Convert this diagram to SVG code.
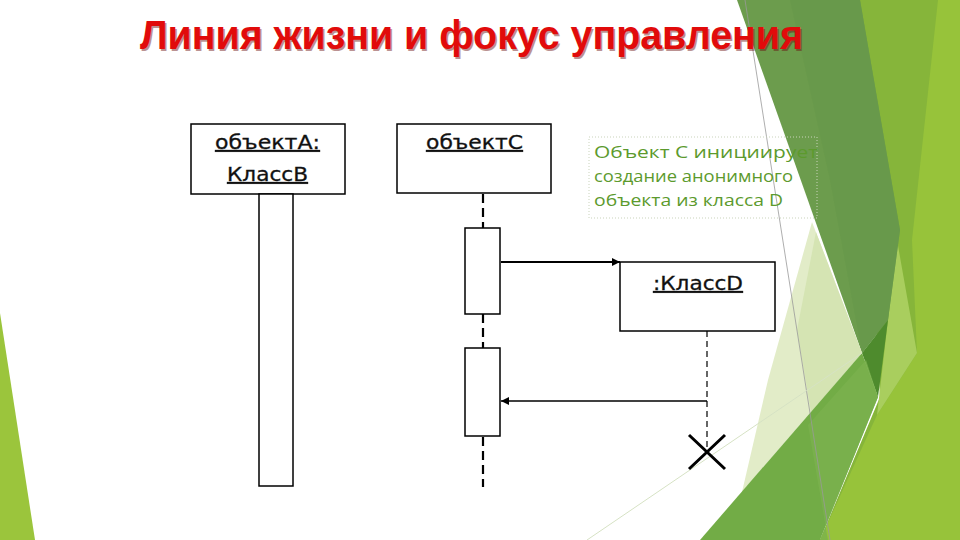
<svg xmlns="http://www.w3.org/2000/svg" width="960" height="540" viewBox="0 0 960 540">
  <style>
    .box { fill: #ffffff; stroke: #000000; stroke-width: 1.5; }
    .lbl { font-family: "DejaVu Sans", "Liberation Sans", sans-serif; font-size: 19px; fill: #111111; text-decoration: underline; stroke: #111111; stroke-width: 0.3; }
    .note { font-family: "Open Sans", "DejaVu Sans", sans-serif; font-size: 17px; fill: #5c9a2d; }
    .life { stroke: #000000; stroke-width: 2.2; stroke-dasharray: 9 5; fill: none; }
    .lifeD { stroke: #000000; stroke-width: 1.2; stroke-dasharray: 6 4; fill: none; }
    .msg { stroke: #000000; fill: none; }
  </style>
  <defs>
    <marker id="arr" viewBox="0 0 10 10" refX="10" refY="5" markerWidth="10" markerHeight="8" markerUnits="userSpaceOnUse" orient="auto">
      <path d="M0,0 L10,5 L0,10 z" fill="#000000"/>
    </marker>
  </defs>

  <!-- background -->
  <rect x="0" y="0" width="960" height="540" fill="#ffffff"/>
  <g id="background">
    <polygon points="0,313 35,540 0,540" fill="#9bc53c"/>
    <polygon points="858,0 960,0 960,540 820,540 880,397" fill="#86b53a"/>
    <polygon points="938,0 960,0 960,540 820,540 877,415 917,353 912,240" fill="#97c33a"/>
    <polygon points="897,240 917,353 877,415 888,320" fill="#a9ce5e"/>
    <polygon points="737,0 860,0 900,230 888,320 862,353" fill="#6c9c4d"/>
    <polygon points="790,0 860,0 900,230 888,320 862,353 830,180" fill="#66994a" opacity="0.7"/>
    <polygon points="812,222 862,353 742,492 768,380" fill="#e2ecc8"/>
    <polygon points="816,232 862,353 811,412 797,330" fill="#d5e4b3"/>
    <polygon points="862,353 888,320 878,397" fill="#4e8b2d"/>
    <polygon points="700,540 862,353 878,397 820,540" fill="#72ac46"/>
    <polygon points="808,425 866,360 878,397 820,540 828,540" fill="#7bb24e" opacity="0.8"/>
    <line x1="745" y1="0" x2="830" y2="540" stroke="#999999" stroke-width="0.8"/>
    <line x1="587" y1="540" x2="862" y2="353" stroke="#d6e2c4" stroke-width="1"/>
  </g>

  <!-- title -->
  <g id="title">
    <text x="141.5" y="50.5" font-family="'Liberation Sans', 'DejaVu Sans', sans-serif" font-weight="bold" font-size="41" fill="#6a1010" opacity="0.45" textLength="663" lengthAdjust="spacingAndGlyphs">Линия жизни и фокус управления</text>
    <text x="140" y="49" font-family="'Liberation Sans', 'DejaVu Sans', sans-serif" font-weight="bold" font-size="41" fill="#e10b0b" textLength="663" lengthAdjust="spacingAndGlyphs">Линия жизни и фокус управления</text>
  </g>

  <!-- note -->
  <g id="note">
    <rect x="589" y="137" width="228" height="81" fill="none" stroke="#c9d3bb" stroke-width="1" stroke-dasharray="1 2"/>
    <text class="note" x="594" y="158" textLength="224" lengthAdjust="spacingAndGlyphs">Объект С инициирует</text>
    <text class="note" x="594" y="182" textLength="199" lengthAdjust="spacingAndGlyphs">создание анонимного</text>
    <text class="note" x="594" y="206" textLength="189" lengthAdjust="spacingAndGlyphs">объекта из класса D</text>
  </g>

  <!-- object A -->
  <g id="objectA">
    <rect class="box" x="191" y="124" width="154" height="70"/>
    <text class="lbl" x="215" y="149" textLength="105" lengthAdjust="spacingAndGlyphs">объектА:</text>
    <text class="lbl" x="227" y="181" textLength="81" lengthAdjust="spacingAndGlyphs">КлассB</text>
    <rect class="box" x="259" y="194" width="34" height="292"/>
  </g>

  <!-- object C -->
  <g id="objectC">
    <rect class="box" x="397" y="124" width="154" height="69"/>
    <text class="lbl" x="426" y="149" textLength="97" lengthAdjust="spacingAndGlyphs">объектС</text>
    <line class="life" x1="483" y1="194" x2="483" y2="228"/>
    <rect class="box" x="465" y="228" width="35" height="86"/>
    <line class="life" x1="483" y1="314" x2="483" y2="348"/>
    <rect class="box" x="465" y="348" width="35" height="88"/>
    <line class="life" x1="483" y1="437" x2="483" y2="487"/>
  </g>

  <!-- object D -->
  <g id="objectD">
    <rect class="box" x="620" y="262" width="155" height="69"/>
    <text class="lbl" x="653" y="290" textLength="90" lengthAdjust="spacingAndGlyphs">:КлассD</text>
    <line class="lifeD" x1="707" y1="331" x2="707" y2="452"/>
    <path d="M689,435 L725,469 M725,435 L689,469" stroke="#000000" stroke-width="3" fill="none"/>
  </g>

  <!-- connectors -->
  <g id="connectors">
    <line class="msg" x1="501" y1="262" x2="620" y2="262" stroke-width="2" marker-end="url(#arr)"/>
    <line class="msg" x1="707" y1="401" x2="501" y2="401" stroke-width="1.3" marker-end="url(#arr)"/>
  </g>
</svg>
